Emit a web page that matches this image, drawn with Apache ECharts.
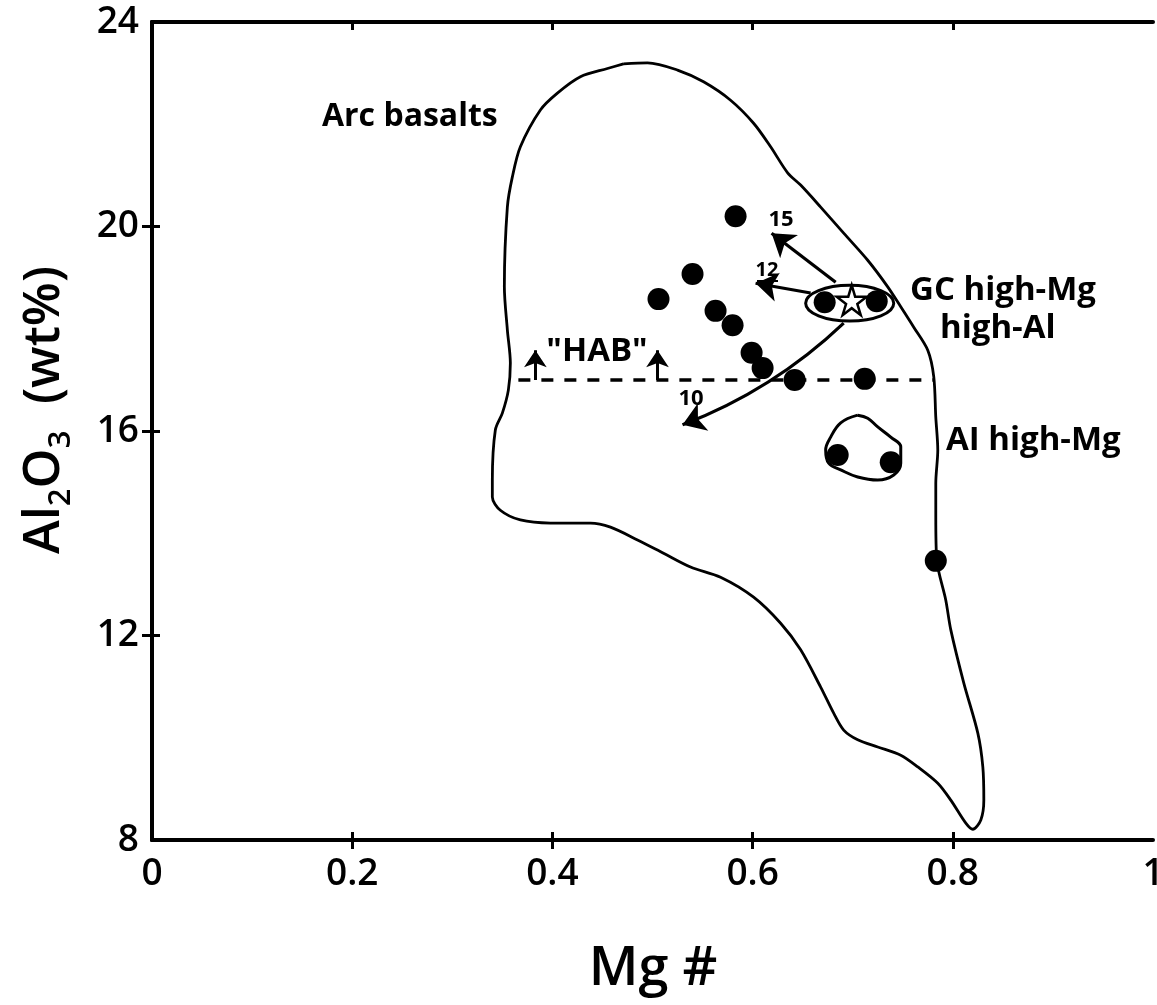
<!DOCTYPE html>
<html>
<head>
<meta charset="utf-8">
<script src="https://cdn.jsdelivr.net/npm/echarts@6/dist/echarts.min.js"></script>
<style>
  html, body { margin: 0; padding: 0; background: #fff; }
  #chart { width: 1157px; height: 1005px; }
</style>
</head>
<body>
<div id="chart"></div>
<script>
// axis ticks
const xTicks = [0, 0.2, 0.4, 0.6, 0.8, 1];
const yTicks = [8, 12, 16, 20, 24];

// samples (filled dots)
const sampleMg = [0.583, 0.540, 0.506, 0.563, 0.580, 0.599, 0.610, 0.642, 0.712, 0.672, 0.724, 0.685, 0.738, 0.783];
const sampleAl = [20.20, 19.07, 18.58, 18.35, 18.07, 17.53, 17.23, 17.00, 17.02, 18.52, 18.54, 15.53, 15.39, 13.46];

// starting composition (open star)
const starMg = [0.699];
const starAl = [18.56];

// arc basalts field outline
const arcMg = [0.471, 0.495, 0.525, 0.551, 0.578, 0.601, 0.618, 0.635, 0.648, 0.668, 0.691, 0.715, 0.735, 0.748, 0.761, 0.775, 0.781, 0.783, 0.785, 0.783, 0.783, 0.784, 0.793, 0.798, 0.811, 0.825, 0.830, 0.831, 0.828, 0.820, 0.813, 0.798, 0.785, 0.765, 0.748, 0.725, 0.705, 0.691, 0.681, 0.668, 0.648, 0.628, 0.601, 0.568, 0.538, 0.511, 0.485, 0.458, 0.438, 0.398, 0.368, 0.348, 0.340, 0.340, 0.343, 0.350, 0.356, 0.358, 0.355, 0.352, 0.355, 0.360, 0.368, 0.388, 0.405, 0.428, 0.455, 0.471];
const arcAl = [23.18, 23.20, 23.06, 22.83, 22.47, 22.02, 21.56, 21.05, 20.81, 20.38, 19.87, 19.34, 18.82, 18.43, 18.03, 17.58, 17.06, 16.27, 15.63, 14.98, 14.32, 13.48, 12.69, 12.11, 11.07, 10.09, 9.43, 8.78, 8.39, 8.21, 8.33, 8.78, 9.11, 9.43, 9.66, 9.82, 9.96, 10.15, 10.48, 10.99, 11.72, 12.24, 12.75, 13.14, 13.34, 13.61, 13.87, 14.12, 14.20, 14.20, 14.26, 14.45, 14.71, 15.04, 16.02, 16.35, 16.80, 17.33, 17.98, 18.82, 20.38, 20.97, 21.56, 22.28, 22.61, 22.93, 23.09, 23.18];

// AI high-Mg field outline
const aiMg = [0.705, 0.688, 0.678, 0.673, 0.676, 0.688, 0.705, 0.725, 0.741, 0.748, 0.748, 0.738, 0.725, 0.715, 0.705];
const aiAl = [16.31, 16.16, 15.88, 15.63, 15.37, 15.24, 15.10, 15.04, 15.14, 15.37, 15.69, 15.88, 16.08, 16.25, 16.31];

// GC high-Mg high-Al field (ellipse: centre and half-widths)
const gcCentre = [0.697, 18.50];
const gcHalf = [0.044, 0.35];

// "HAB" limit
const habAl = 17;
const habMg = [0.366, 0.781];
const habArrowMg = [0.383, 0.505];
const habArrowTop = 17.58;

// fractionation vectors (% crystallised)
const vectorLabels = ['15', '12', '10'];
const vectorFromMg = [0.683, 0.658, 0.691];
const vectorFromAl = [18.91, 18.70, 18.11];
const vectorToMg = [0.619, 0.603, 0.530];
const vectorToAl = [19.87, 18.89, 16.12];
const vectorBend = { '15': 0, '12': 0, '10': 0.1 };

const FONT = '"Open Sans"';
const chart = echarts.init(document.getElementById('chart'));

const zip = (a, b) => a.map((v, i) => [v, b[i]]);

const vectorData = vectorLabels.map((k, i) => ({
  coords: [[vectorFromMg[i], vectorFromAl[i]], [vectorToMg[i], vectorToAl[i]]],
  lineStyle: { curveness: vectorBend[k] }
}));
const habArrowData = habArrowMg.map(m => ({ coords: [[m, habAl], [m, habArrowTop]] }));

const tickStyle = { color: '#000', width: 3 };
const baseX = { type: 'value', min: 0, max: 1, interval: 0.2, splitLine: { show: false } };
const baseY = { type: 'value', min: 8, max: 24, interval: 4, splitLine: { show: false } };
const innerX = xTicks.slice(1, -1);
const innerY = yTicks.slice(1, -1);

const txt = (x, y, text, size, align) => ({
  type: 'text', x: x, y: y,
  style: {
    text: text, fontSize: size, fontWeight: 'bold', fontFamily: FONT, fill: '#000',
    align: align, verticalAlign: 'middle', textAlign: align, textVerticalAlign: 'middle'
  }
});

chart.setOption({
  backgroundColor: '#fff',
  animation: false,
  grid: { left: 152, right: 4, top: 22, bottom: 165, containLabel: false, outerBoundsMode: 'none' },
  xAxis: [
    Object.assign({}, baseX, {
      position: 'bottom',
      axisLine: { lineStyle: { color: '#000', width: 4 } },
      axisTick: { customValues: innerX, length: 9, lineStyle: tickStyle },
      axisLabel: { color: '#000', fontSize: 37, fontWeight: 600, fontFamily: FONT, margin: 16 }
    }),
    Object.assign({}, baseX, {
      position: 'bottom',
      axisLine: { show: false },
      axisTick: { customValues: innerX, inside: true, length: 8, lineStyle: tickStyle },
      axisLabel: { show: false }
    }),
    Object.assign({}, baseX, {
      position: 'top',
      axisLine: { lineStyle: { color: '#000', width: 4 } },
      axisTick: { customValues: innerX, inside: true, length: 8, lineStyle: tickStyle },
      axisLabel: { show: false }
    })
  ],
  yAxis: [
    Object.assign({}, baseY, {
      position: 'left',
      axisLine: { lineStyle: { color: '#000', width: 4 } },
      axisTick: { customValues: innerY, length: 8, lineStyle: tickStyle },
      axisLabel: { color: '#000', fontSize: 37, fontWeight: 600, fontFamily: FONT, margin: 13 }
    }),
    Object.assign({}, baseY, {
      position: 'left',
      axisLine: { show: false },
      axisTick: { customValues: innerY, inside: true, length: 8, lineStyle: tickStyle },
      axisLabel: { show: false }
    }),
    Object.assign({}, baseY, {
      position: 'right',
      axisLine: { lineStyle: { color: '#000', width: 4 } },
      axisTick: { customValues: innerY, inside: true, length: 10, lineStyle: tickStyle },
      axisLabel: { show: false }
    })
  ],
  series: [
    {
      name: 'Arc basalts', type: 'line', data: zip(arcMg, arcAl),
      symbol: 'none', smooth: 0.3, lineStyle: { color: '#000', width: 2.8 }, z: 2
    },
    {
      name: 'AI high-Mg', type: 'line', data: zip(aiMg, aiAl),
      symbol: 'none', smooth: 0.4, lineStyle: { color: '#000', width: 3 }, z: 2
    },
    {
      name: 'GC high-Mg high-Al', type: 'custom', data: [[gcCentre[0], gcCentre[1], gcHalf[0], gcHalf[1]]],
      encode: { x: 0, y: 1 }, z: 2,
      renderItem: (params, api) => {
        const c = api.coord([api.value(0), api.value(1)]);
        const s = api.size([api.value(2), api.value(3)]);
        return {
          type: 'ellipse',
          shape: { cx: c[0], cy: c[1], rx: s[0], ry: s[1] },
          style: { fill: 'none', stroke: '#000', lineWidth: 3 }
        };
      }
    },
    {
      name: 'HAB', type: 'line', data: habMg.map(m => [m, habAl]),
      symbol: 'none', lineStyle: { color: '#000', width: 3.5, type: [12, 11] }, z: 2
    },
    {
      name: 'HAB arrows', type: 'lines', coordinateSystem: 'cartesian2d',
      data: habArrowData, symbol: ['none', 'arrow'], symbolSize: 17,
      lineStyle: { color: '#000', width: 3, opacity: 1 }, z: 3
    },
    {
      name: 'vectors', type: 'lines', coordinateSystem: 'cartesian2d',
      data: vectorData, symbol: ['none', 'arrow'], symbolSize: 22,
      lineStyle: { color: '#000', width: 3.2, opacity: 1 }, z: 3
    },
    {
      name: 'samples', type: 'scatter', data: zip(sampleMg, sampleAl),
      symbol: 'circle', symbolSize: 22, itemStyle: { color: '#000', opacity: 1 }, z: 4
    },
    {
      name: 'start', type: 'scatter', data: zip(starMg, starAl),
      symbol: 'path://M50,0 L61,35 L98,35 L68,57 L79,91 L50,70 L21,91 L32,57 L2,35 L39,35 Z',
      symbolSize: 30, itemStyle: { color: '#fff', borderColor: '#000', borderWidth: 2.5, opacity: 1 }, z: 5
    }
  ],
  graphic: {
    elements: [
      txt(322, 117, 'Arc basalts', 32, 'left'),
      txt(910, 291, 'GC high-Mg', 33, 'left'),
      txt(940, 329, 'high-Al', 33, 'left'),
      txt(946, 441, 'AI high-Mg', 33, 'left'),
      txt(597, 352, '"HAB"', 33, 'center'),
      txt(781, 220, '15', 22, 'center'),
      txt(767, 270, '12', 20, 'center'),
      { type: 'line', shape: { x1: 757, y1: 281, x2: 778, y2: 281 }, style: { stroke: '#000', lineWidth: 2 } },
      txt(691, 399, '10', 22, 'center'),
      {
        type: 'text', x: 653, y: 970,
        style: { text: 'Mg #', fontSize: 54, fontWeight: 600, fontFamily: FONT, fill: '#000', align: 'center', verticalAlign: 'middle', textAlign: 'center', textVerticalAlign: 'middle' }
      },
      {
        type: 'text', x: 44, y: 410, rotation: Math.PI / 2,
        style: {
          text: '{m|Al}{s|2}{m|O}{s|3}{m|  (wt%)}',
          align: 'center', verticalAlign: 'middle', textAlign: 'center', textVerticalAlign: 'middle',
          fill: '#000',
          rich: {
            m: { fontSize: 51, fontWeight: 600, fontFamily: FONT, fill: '#000', lineHeight: 58, verticalAlign: 'middle' },
            s: { fontSize: 31, fontWeight: 600, fontFamily: FONT, fill: '#000', lineHeight: 58, padding: [34, 0, 0, 0], verticalAlign: 'middle' }
          }
        }
      }
    ]
  }
});
</script>
</body>
</html>
